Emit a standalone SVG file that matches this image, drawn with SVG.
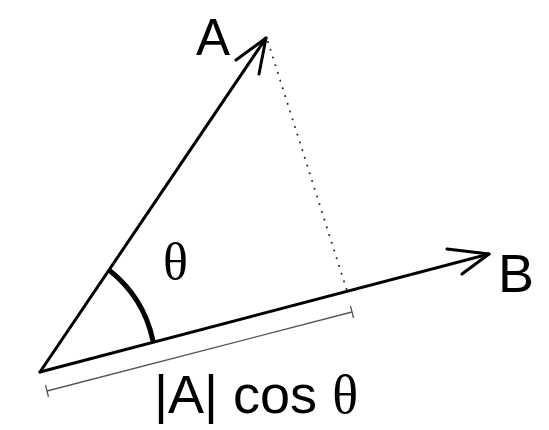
<svg xmlns="http://www.w3.org/2000/svg" width="549" height="430" viewBox="0 0 549 430">
<style>
.vec{stroke:#000;stroke-width:3;fill:none;stroke-linecap:round;stroke-linejoin:round}
.lbl{font-family:"Liberation Sans",Arial,sans-serif;fill:#000}
.gr{font-family:"Liberation Serif","Times New Roman",serif;fill:#000}
</style>
<rect width="549" height="430" fill="#fff"/>
<g id="connectors">
<line class="vec" x1="40" y1="372" x2="266" y2="38"/>
<polyline class="vec" points="236,60 266,38 259,74"/>
<line class="vec" x1="40" y1="372" x2="489" y2="254"/>
<polyline class="vec" points="447,249 489,254 462,274"/>
<path d="M109,270 A122,122 0 0 1 153,341" fill="none" stroke="#000" stroke-width="5"/>
<line x1="268" y1="42" x2="348" y2="294" stroke="#333" stroke-width="2" stroke-dasharray="0.1 8" stroke-linecap="round"/>
<line x1="47" y1="391" x2="352" y2="312" stroke="#555" stroke-width="1.3"/>
<line x1="45.5" y1="385" x2="48.5" y2="397" stroke="#555" stroke-width="1.3"/>
<line x1="350.5" y1="306" x2="353.5" y2="318" stroke="#555" stroke-width="1.3"/>
</g>
<g id="labelA"><text class="lbl" x="196" y="55" font-size="51">A</text></g>
<g id="labelB"><text class="lbl" x="498" y="292" font-size="54">B</text></g>
<g id="theta"><text class="gr" x="163" y="279" font-size="52">θ</text></g>
<g id="proj"><text class="lbl" x="154" y="413" font-size="54">|A| cos <tspan class="gr">θ</tspan></text></g>
</svg>
